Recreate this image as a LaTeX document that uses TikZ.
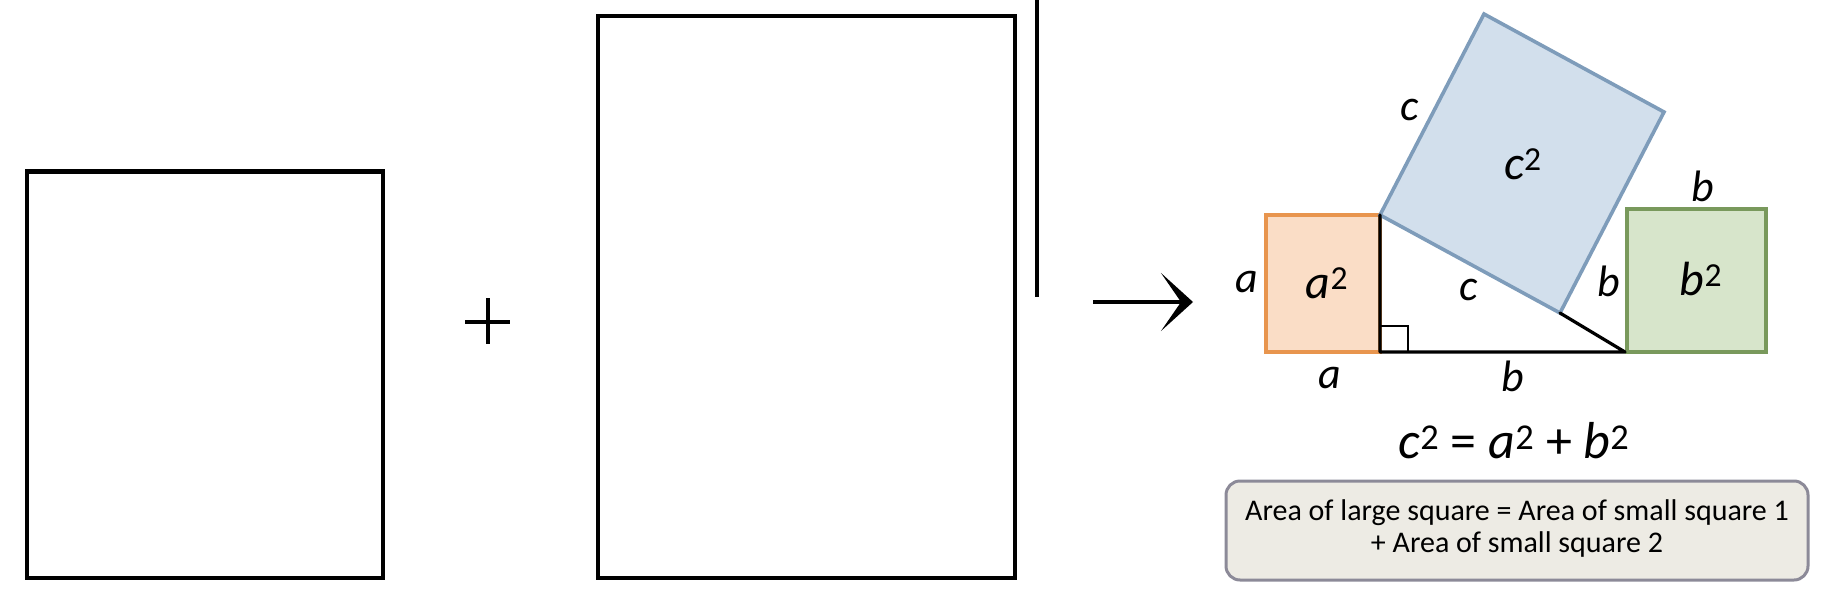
\documentclass[tikz,border=0pt]{standalone}
\usepackage{fontspec}
\setmainfont{Carlito}
\usetikzlibrary{arrows.meta}
\definecolor{orfill}{HTML}{FADDC6}
\definecolor{ordraw}{HTML}{E8954E}
\definecolor{blfill}{HTML}{D2DFEC}
\definecolor{bldraw}{HTML}{7E9CBA}
\definecolor{grfill}{HTML}{D7E5CB}
\definecolor{grdraw}{HTML}{79995C}
\definecolor{boxfill}{HTML}{EDEBE4}
\definecolor{boxdraw}{HTML}{8C8A98}
\begin{document}
\begin{tikzpicture}[x=1pt,y=-1pt,
  outline/.style={draw=black,line width=3.5pt},
  tri/.style={draw=black,line width=3.2pt,line cap=round,line join=round},
  lbl/.style={font=\fontsize{44}{48}\selectfont\itshape,inner sep=0pt},
  sq/.style={font=\fontsize{48}{52}\selectfont,inner sep=0pt},
  coloured/.style={line width=3.6pt,line join=miter}]
\useasboundingbox (0,0) rectangle (1821,592);
% left shapes
\draw[outline] (27,171) rectangle (383,578);
\draw[outline,line width=5pt] (27,171) -- (383,171);
\draw[line width=3.2pt] (465,322) -- (510,322) (488,298) -- (488,344);
\draw[outline] (598,16) rectangle (1015,578);
\draw[line width=3.2pt] (1037,0) -- (1037,297);
% arrow
\coordinate (arrS) at (1093,302);
\coordinate (arrE) at (1193,302);
\draw[line width=3.8pt,-{Stealth[length=32pt,width=58pt,inset=20pt]}] (arrS) -- (arrE);
% triangle vertices
\coordinate (A) at (1380,215);
\coordinate (C) at (1380,352);
\coordinate (B) at (1625,352);
\coordinate (P) at (1484,14);
\coordinate (Q) at (1664,112);
\coordinate (R) at (1560,313);
% coloured squares
\draw[coloured,fill=orfill,draw=ordraw] (1266,215) rectangle (1380,352);
\draw[coloured,fill=grfill,draw=grdraw] (1627,209) rectangle (1766,352);
\draw[coloured,fill=blfill,draw=bldraw] (A) -- (P) -- (Q) -- (R) -- cycle;
% triangle
\draw[tri] (R) -- (B) -- (C) -- (A);
\draw[line width=2.6pt] (1380,326) -- (1408,326) -- (1408,352);
% labels
\node[lbl] (lc1) at (1410,110) {c};
\node[sq] (lc2) at (1523,164) {\textit{c}\textsuperscript{2}};
\node[lbl] (lb1) at (1703,186) {b};
\node[lbl] (la1) at (1247,282) {a};
\node[sq] (la2) at (1327,283) {\textit{a}\textsuperscript{2}};
\node[lbl] (lc3) at (1469,290) {c};
\node[lbl] (lb2) at (1609,281) {b};
\node[sq] (lb3) at (1701,279) {\textit{b}\textsuperscript{2}};
\node[lbl] (la3) at (1330,378) {a};
\node[lbl] (lb4) at (1513,376) {b};
% equation
\node[font=\fontsize{52}{56}\selectfont,inner sep=0pt] (eq) at (1514,441)
  {\textit{c}\textsuperscript{2} = \textit{a}\textsuperscript{2} + \textit{b}\textsuperscript{2}};
% box
\draw[line width=3pt,draw=boxdraw,fill=boxfill,rounded corners=14pt] (1226,481) rectangle (1808,580);
\node[font=\fontsize{30}{32}\selectfont,align=center,inner sep=0pt] (txt) at (1517,528)
  {Area of large square = Area of small square 1\\+ Area of small square 2};
\end{tikzpicture}
\end{document}
